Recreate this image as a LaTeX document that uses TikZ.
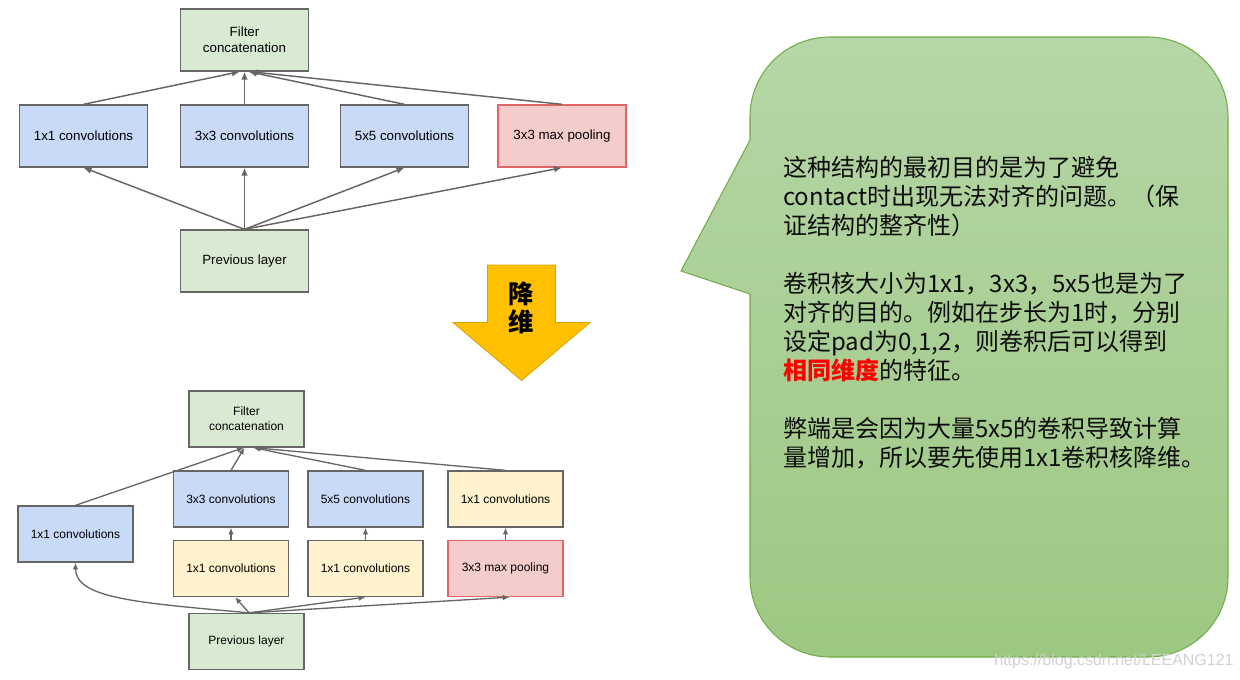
\documentclass[tikz,border=0pt]{standalone}
\usepackage{fontspec}
\setmainfont{Liberation Sans}
\newfontfamily\cjk{Noto Sans CJK SC}
\usepackage{xcolor}
\usepackage{tikz}
\usetikzlibrary{arrows.meta}

\begin{document}
\begin{tikzpicture}[x=0.75pt,y=0.75pt,yscale=-1,xscale=1,
  box/.style={draw={rgb, 255:red, 102; green, 102; blue, 102 }, line width=1pt, inner sep=0.75pt, align=center},
  boxA/.style={box, minimum width=96pt, minimum height=46.5pt, font=\fontsize{10}{12}\selectfont},
  boxB/.style={box, minimum width=86.25pt, minimum height=42pt, font=\fontsize{9}{11.25}\selectfont},
  grn/.style={fill={rgb, 255:red, 217; green, 234; blue, 211 }},
  blu/.style={fill={rgb, 255:red, 201; green, 218; blue, 248 }},
  ylw/.style={fill={rgb, 255:red, 255; green, 242; blue, 204 }},
  pnk/.style={fill={rgb, 255:red, 244; green, 204; blue, 204 }, draw={rgb, 255:red, 224; green, 102; blue, 102 }},
  conn/.style={draw={rgb, 255:red, 102; green, 102; blue, 102 }, line width=1.1pt, -{Latex[length=6pt,width=5pt]}},
  connB/.style={conn, line width=1pt, -{Latex[length=5pt,width=4.2pt]}}
]
\useasboundingbox (0,0) rectangle (1240,679);

%Shape: Rectangles (naive module)
\node [boxA, grn] (concatA) at (244.5,40) {Filter\\concatenation};
\node [boxA, blu] (c1A) at (83.5,136) {1x1 convolutions};
\node [boxA, blu] (c3A) at (244.5,136) {3x3 convolutions};
\node [boxA, blu] (c5A) at (404.5,136) {5x5 convolutions};
\node [boxA, pnk] (poolA) at (562,136) {3x3 max pooling};
\node [boxA, grn] (prevA) at (244.5,261) {Previous layer};

%Straight Lines
\draw [conn] (c1A.north) -- ([xshift=-3.5pt]concatA.south);
\draw [conn] (c3A.north) -- (concatA.south);
\draw [conn] (c5A.north) -- ([xshift=3pt]concatA.south);
\draw [conn] (poolA.north) -- ([xshift=4pt]concatA.south);
\draw [conn] (prevA.north) -- (c1A.south);
\draw [conn] (prevA.north) -- (c3A.south);
\draw [conn] (prevA.north) -- (c5A.south);
\draw [conn] (prevA.north) -- (poolA.south);

%Shape: Down Arrow
\draw [fill={rgb, 255:red, 255; green, 192; blue, 0 }, draw={rgb, 255:red, 214; green, 164; blue, 0 }, line width=0.6pt]
  (487.5,265) -- (555.5,265) -- (555.5,322.5) -- (590,322.5) -- (521.5,380.5) -- (453,322.5) -- (487.5,322.5) -- cycle;
% Text Node
\node [inner sep=0pt, align=center, font=\cjk\bfseries\fontsize{19}{21}\selectfont] (reduce) at (521.5,308) {降\\维};

%Shape: Rectangles (dimension reduction module)
\node [boxB, grn] (concatB) at (246.5,419) {Filter\\concatenation};
\node [boxB, blu] (c3B) at (231,499) {3x3 convolutions};
\node [boxB, blu] (c5B) at (365.5,499) {5x5 convolutions};
\node [boxB, ylw] (c1rB) at (505.5,499) {1x1 convolutions};
\node [boxB, blu] (c1lB) at (75.5,534) {1x1 convolutions};
\node [boxB, ylw] (r1B) at (231,568.5) {1x1 convolutions};
\node [boxB, ylw] (r2B) at (365.5,568.5) {1x1 convolutions};
\node [boxB, pnk] (poolB) at (505.5,568.5) {3x3 max pooling};
\node [boxB, grn] (prevB) at (246.5,641.5) {Previous layer};

%Straight Lines
\draw [connB] (c1lB.north) -- ([xshift=-2pt]concatB.south);
\draw [connB] (c3B.north) -- ([xshift=-1.5pt]concatB.south);
\draw [connB] (c5B.north) -- ([xshift=5pt]concatB.south);
\draw [connB] (c1rB.north) -- ([xshift=5.5pt]concatB.south);
\draw [connB] (r1B.north) -- (c3B.south);
\draw [connB] (r2B.north) -- (c5B.south);
\draw [connB] (poolB.north) -- (c1rB.south);
\draw [connB] ([xshift=2pt]prevB.north) .. controls +(-110,-10) and +(0,36) .. (c1lB.south);
\draw [connB] ([xshift=2pt]prevB.north) -- ([xshift=3pt]r1B.south);
\draw [connB] ([xshift=2pt]prevB.north) -- (r2B.south);
\draw [connB] ([xshift=2pt]prevB.north) -- ([xshift=3pt]poolB.south);

%Shape: Rounded Rectangular Callout
\draw [top color={rgb, 255:red, 182; green, 214; blue, 167 }, bottom color={rgb, 255:red, 157; green, 200; blue, 130 },
  draw={rgb, 255:red, 112; green, 173; blue, 71 }, line width=0.8pt]
  (750,294) -- (750,577) arc[start angle=180, end angle=90, radius=80]
  -- (1148,657) arc[start angle=90, end angle=0, radius=80]
  -- (1228,117) arc[start angle=0, end angle=-90, radius=80]
  -- (830,37) arc[start angle=-90, end angle=-180, radius=80]
  -- (750,140) -- (681,271) -- cycle;

% Text Node
\node [anchor=north west, inner sep=0pt, align=left, text={rgb, 255:red, 13; green, 13; blue, 13 },
  font=\cjk\fontsize{18}{21.75}\selectfont] (note) at (783,156)
  {这种结构的最初目的是为了避免\\
   contact时出现无法对齐的问题。（保\\
   证结构的整齐性）\\[21.75pt]
   卷积核大小为1x1，3x3，5x5也是为了\\
   对齐的目的。例如在步长为1时，分别\\
   设定pad为0,1,2，则卷积后可以得到\\
   {\bfseries\color{red}相同维度}的特征。\\[21.75pt]
   弊端是会因为大量5x5的卷积导致计算\\
   量增加，所以要先使用1x1卷积核降维。};

% Text Node
\node [inner sep=0pt, text=black!18, font=\fontsize{12}{14}\selectfont] (mark) at (1114,661) {https://blog.csdn.net/LEEANG121};
\end{tikzpicture}
\end{document}
